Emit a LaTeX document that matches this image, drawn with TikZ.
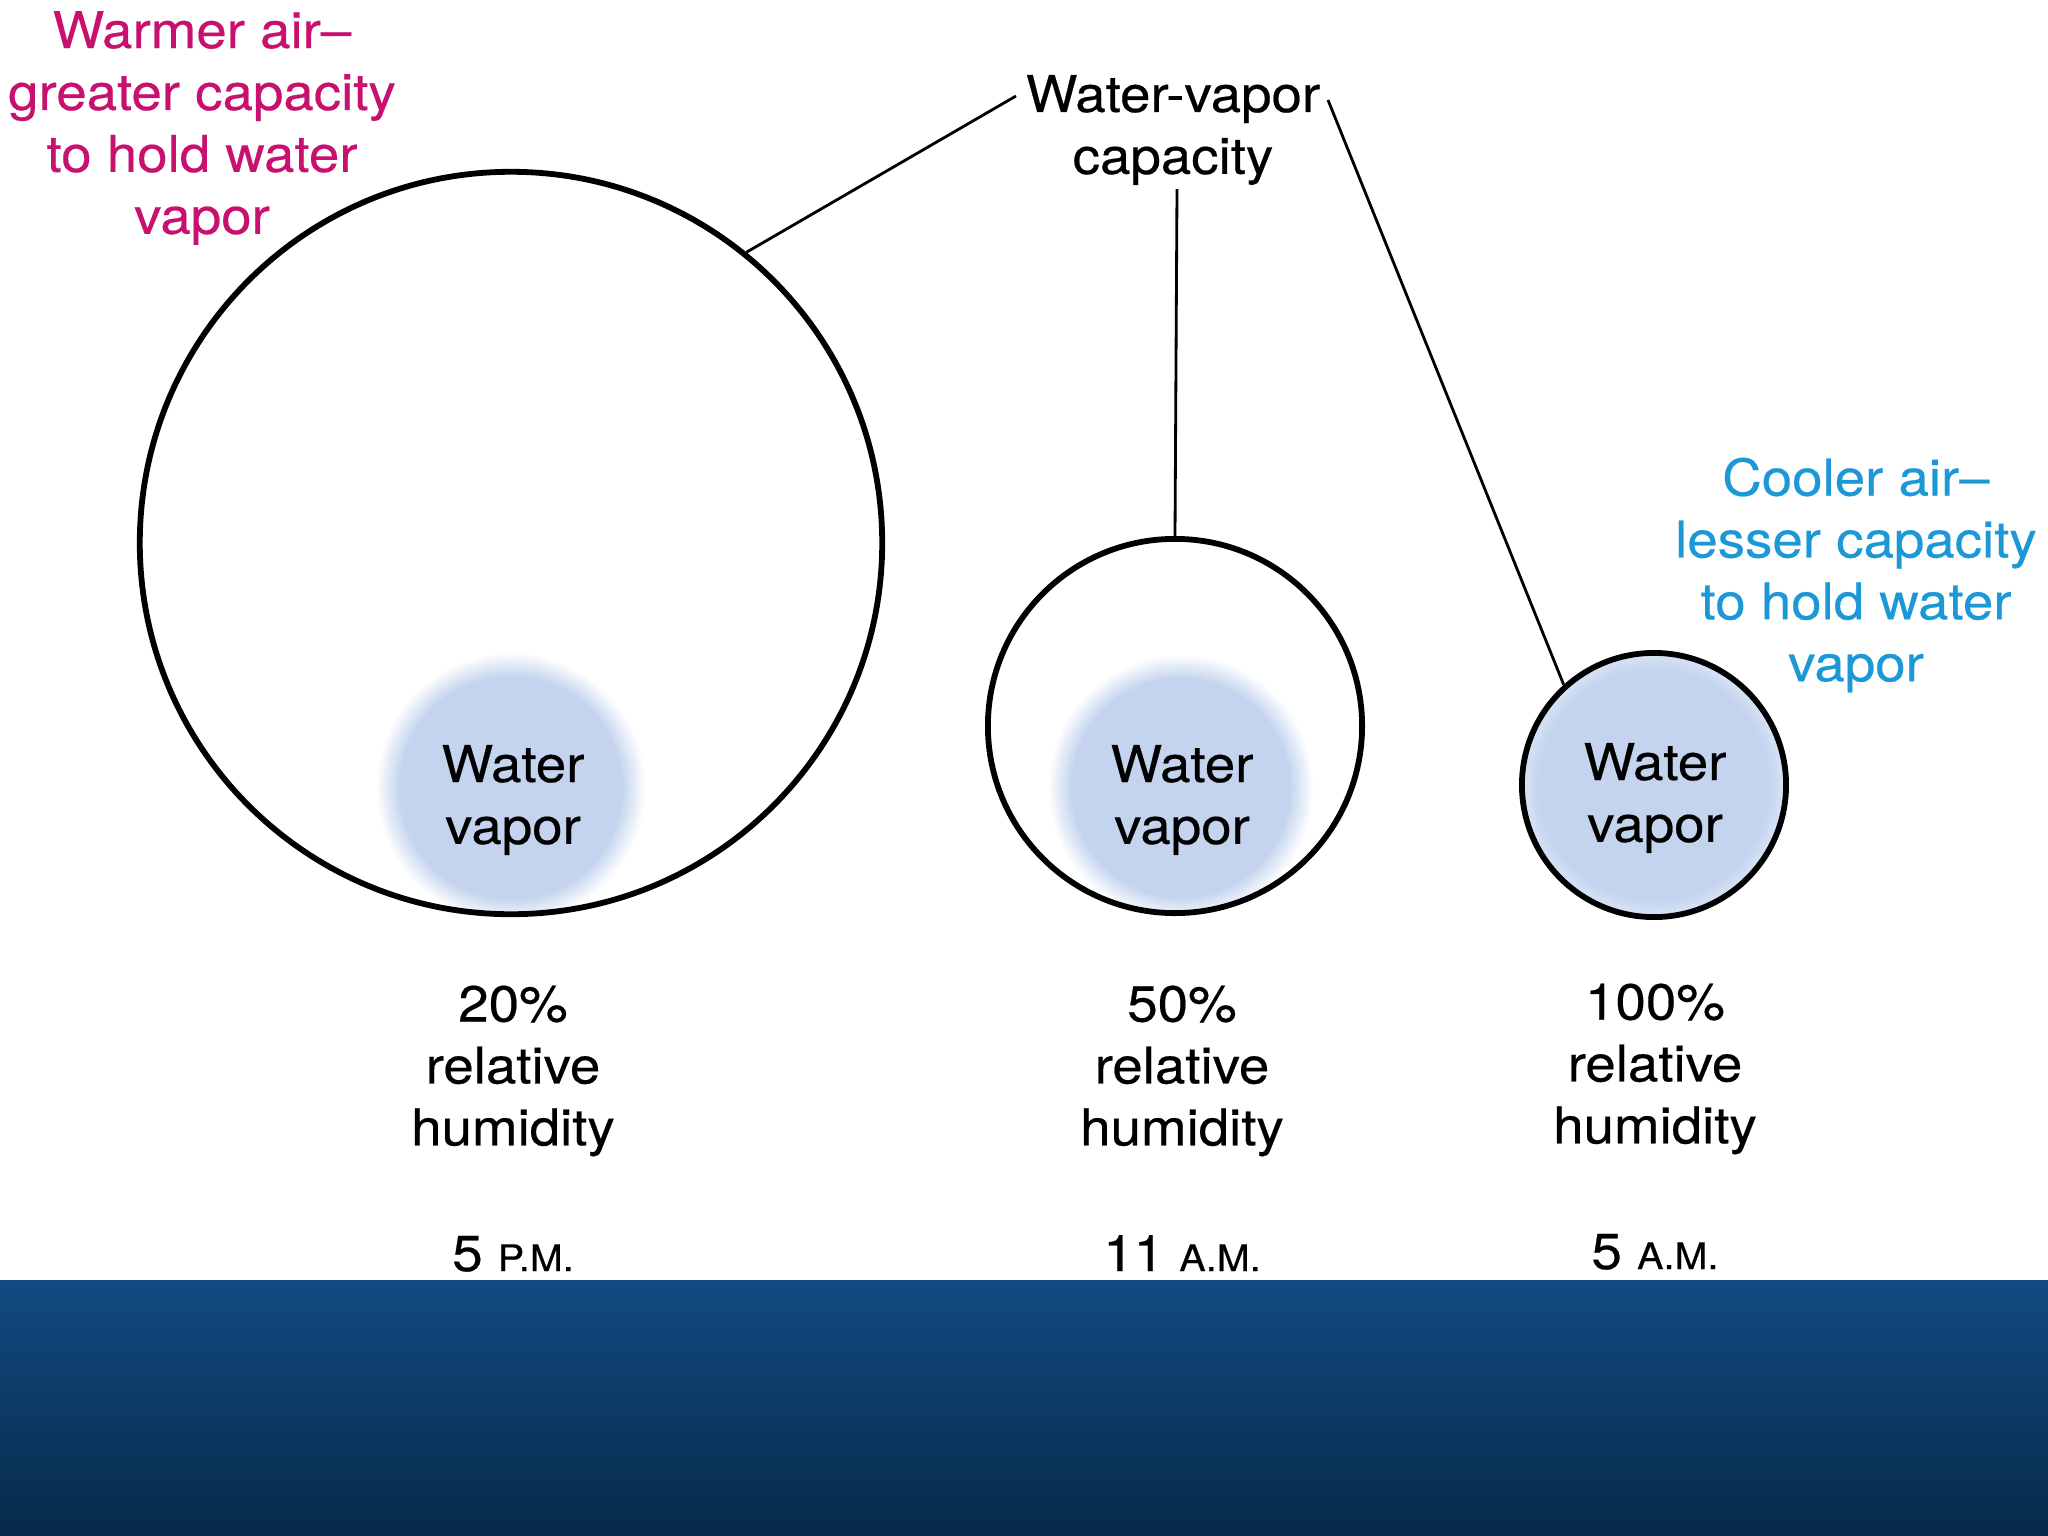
\documentclass[tikz,border=0pt]{standalone}
\usepackage{fontspec}
\setmainfont[FakeStretch=1.08,FakeBold=0.4]{TeX Gyre Heros}
\definecolor{warm}{RGB}{200,16,110}
\definecolor{cool}{RGB}{28,152,214}
\definecolor{vap}{RGB}{196,212,238}
\definecolor{vapedge}{RGB}{216,228,246}
\definecolor{seatop}{RGB}{18,74,130}
\definecolor{seamid}{RGB}{5,52,92}
\definecolor{seabot}{RGB}{6,42,72}
\begin{document}
\begin{tikzpicture}[x=0.01cm,y=-0.01cm,
  lbl/.style={align=center, font=\fontsize{14.4}{17.6}\selectfont, inner sep=0pt},
  air/.style={circle, draw=black, line width=1.65pt, inner sep=0pt},
  conn/.style={draw=black, line width=0.8pt}]
\useasboundingbox (0,0) rectangle (2048,1536);
% sea band
\fill[top color=seatop, middle color=seamid, bottom color=seabot] (0,1280) rectangle (2048,1536);
% water vapor blobs (soft edges built from rings)
\begin{scope}
  \clip (511,543) circle (371);
  \foreach \k in {0,...,12}{
    \pgfmathsetmacro{\pc}{\k*100/12}
    \fill[vap!\pc!white] (511,788) circle ({136-2*\k});
  }
\end{scope}
\begin{scope}
  \clip (1175,726) circle (187);
  \foreach \k in {0,...,12}{
    \pgfmathsetmacro{\pc}{\k*100/12}
    \fill[vap!\pc!white] (1181,788) circle ({134-2*\k});
  }
\end{scope}
\foreach \k in {0,...,8}{
  \pgfmathsetmacro{\pc}{\k*100/8}
  \fill[vap!\pc!vapedge] (1654,785) circle ({132-2*\k});
}
% air circles
\node[air, minimum size=7.42cm] (big) at (511,543) {};
\node[air, minimum size=3.74cm] (mid) at (1175,726) {};
\node[air, minimum size=2.64cm] (small) at (1654,785) {};
% labels
\node[lbl, text=warm] (warm) at (202,128) {Warmer air–\\greater capacity\\to hold water\\vapor};
\node[lbl, text=cool] (cool) at (1856,575) {Cooler air–\\lesser capacity\\to hold water\\vapor};
\node[lbl] (cap) at (1173,130) {Water-vapor\\capacity};
\coordinate (capL) at (1016,96);
\coordinate (capR) at (1328,100);
\coordinate (capB) at (1177,189);
\draw[conn] (big.51.6) -- (capL);
\draw[conn] (mid.90) -- (capB);
\draw[conn] (small.132.3) -- (capR);
\node[lbl] (wv1) at (513,800) {Water\\vapor};
\node[lbl] (wv2) at (1182,800) {Water\\vapor};
\node[lbl] (wv3) at (1655,798) {Water\\vapor};
\node[lbl] (rh1) at (513,1071) {20\%\\relative\\humidity};
\node[lbl] (rh2) at (1182,1071) {50\%\\relative\\humidity};
\node[lbl] (rh3) at (1655,1069) {100\%\\relative\\humidity};
\node[lbl, anchor=base] (t1) at (513,1271) {5 {\fontsize{10.4}{12}\selectfont P.M.}};
\node[lbl, anchor=base] (t2) at (1182,1271) {11 {\fontsize{10.4}{12}\selectfont A.M.}};
\node[lbl, anchor=base] (t3) at (1655,1269) {5 {\fontsize{10.4}{12}\selectfont A.M.}};
\end{tikzpicture}
\end{document}
